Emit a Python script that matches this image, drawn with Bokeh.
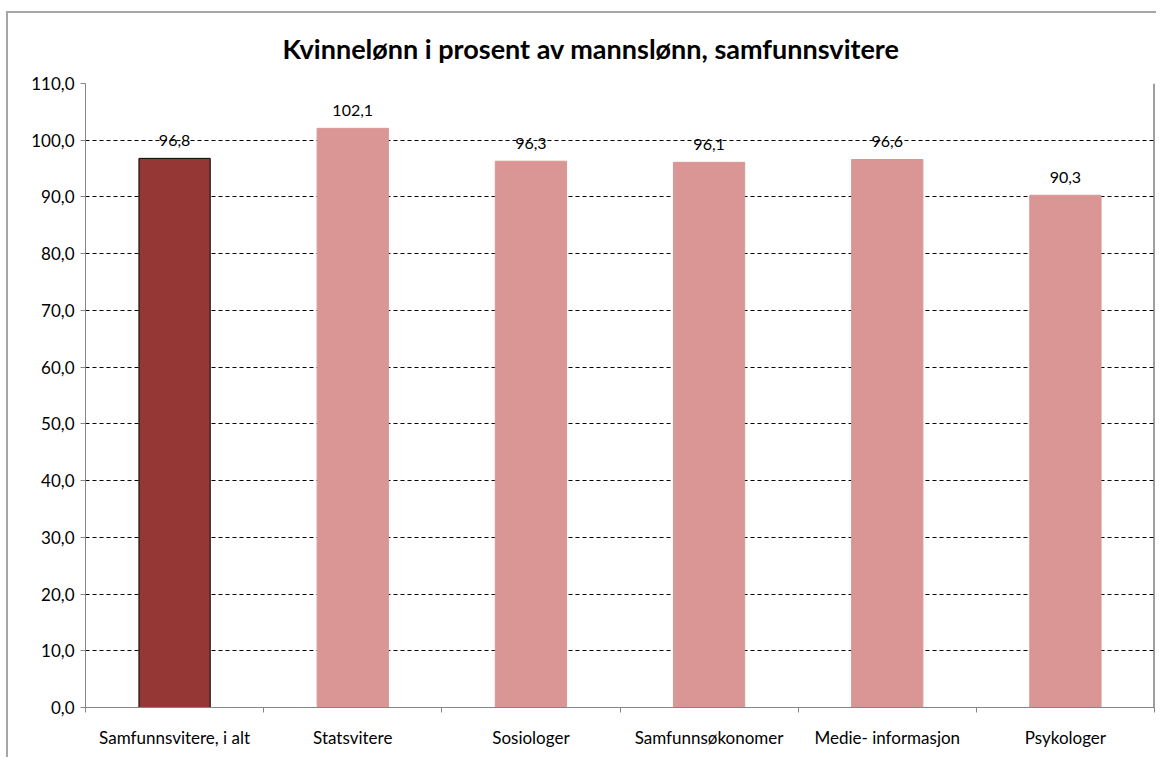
from bokeh.plotting import figure
from bokeh.models import (ColumnDataSource, FixedTicker, CustomJSTickFormatter, Span, Range1d)
from bokeh.core.properties import value
from bokeh.embed import file_html
from bokeh.resources import INLINE

title = "Kvinnelønn i prosent av mannslønn, samfunnsvitere"
categories = ["Samfunnsvitere, i alt", "Statsvitere", "Sosiologer",
              "Samfunnsøkonomer", "Medie- informasjon", "Psykologer"]
values = [96.8, 102.1, 96.3, 96.1, 96.6, 90.3]
y_ticks = [0, 10, 20, 30, 40, 50, 60, 70, 80, 90, 100, 110]

FONT = "Lato"
dark = "#953735"
light = "#D99694"

n = len(categories)
xs = [i + 0.5 for i in range(n)]
colors = [dark] + [light] * (n - 1)
lines = ["#000000"] + [light] * (n - 1)
labels = [f"{v:.1f}".replace(".", ",") for v in values]

src = ColumnDataSource(dict(x=xs, top=values, color=colors, line=lines, label=labels))

p = figure(width=1150, height=746, output_backend="svg", toolbar_location=None,
           x_range=Range1d(0, n), y_range=Range1d(0, 110),
           min_border_left=77, min_border_right=4, min_border_bottom=52, min_border_top=70)
p.styles = {"border-left": "2px solid #a6a6a6", "border-top": "2px solid #a6a6a6",
            "margin-left": "6px", "margin-top": "11px"}

p.title.text = title
p.title.text_font = FONT
p.title.text_font_size = "27px"
p.title.text_font_style = "bold"
p.title.align = "left"
p.title.offset = 197
p.title.standoff = 33
p.title.vertical_align = "top"
p.title.text_color = "#000000"

p.vbar(x="x", top="top", width=0.4, source=src, fill_color="color", line_color="line",
       line_width=1)
p.text(x="x", y="top", text="label", source=src, text_align="center",
       text_baseline="alphabetic", y_offset=-18, text_font_size="16px",
       text_color="#000000", text_font=value(FONT))

p.xgrid.visible = False
p.ygrid.ticker = FixedTicker(ticks=y_ticks)
p.ygrid.grid_line_color = "#000000"
p.ygrid.grid_line_dash = "4 3"
p.ygrid.grid_line_width = 1

# y axis
p.yaxis.ticker = FixedTicker(ticks=y_ticks)
p.yaxis.formatter = CustomJSTickFormatter(code="return tick.toFixed(1).replace('.', ',');")
p.yaxis.axis_line_color = "#868686"
p.yaxis.major_tick_line_color = "#868686"
p.yaxis.major_tick_out = 5
p.yaxis.major_tick_in = 0
p.yaxis.minor_tick_line_color = None
p.yaxis.major_label_text_font = FONT
p.yaxis.major_label_text_font_size = "17px"
p.yaxis.major_label_text_color = "#000000"
p.yaxis.major_label_standoff = 6

# x axis: labels at centers, ticks at boundaries (as minor ticks)
p.xaxis.ticker = FixedTicker(ticks=xs, minor_ticks=list(range(n + 1)))
p.xaxis.major_label_overrides = {x: c for x, c in zip(xs, categories)}
p.xaxis.axis_line_color = "#868686"
p.xaxis.major_tick_line_color = None
p.xaxis.major_tick_out = 0
p.xaxis.major_tick_in = 0
p.xaxis.minor_tick_line_color = "#868686"
p.xaxis.minor_tick_out = 5
p.xaxis.minor_tick_in = 0
p.xaxis.major_label_text_font = FONT
p.xaxis.major_label_text_font_size = "17px"
p.xaxis.major_label_text_color = "#000000"
p.xaxis.major_label_standoff = 14

p.outline_line_color = None
p.add_layout(Span(location=n, dimension="height", line_color="#404040", line_width=2))

open("out.html", "w").write(file_html(p, INLINE))
